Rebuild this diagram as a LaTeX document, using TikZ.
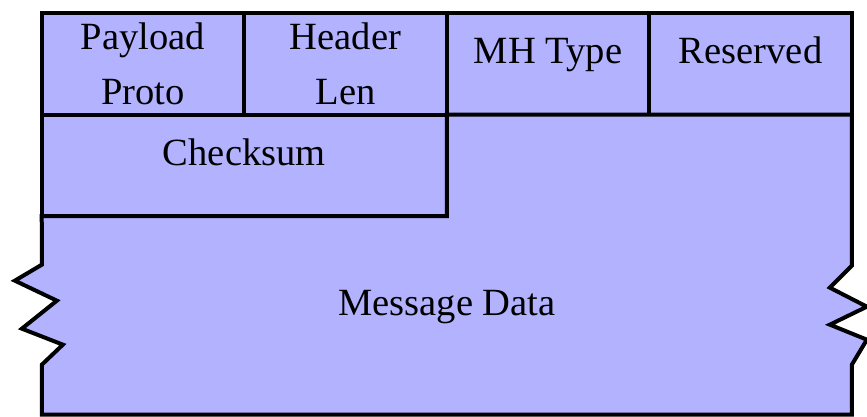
\documentclass[tikz,border=0pt]{standalone}
\usepackage{fontspec}
\setmainfont{Liberation Serif}
\usetikzlibrary{positioning}

\begin{document}
\begin{tikzpicture}[
  x=0.75pt, y=-0.75pt,
  font=\fontsize{28.9}{41.25}\selectfont,
  field/.style={rectangle, draw=black, fill=blue!30, line width=3pt, outer sep=0pt, inner sep=0pt, minimum width=151.9pt, minimum height=76pt, align=center},
  oneline/.style={text height=20pt, text depth=20pt},
  payload/.style={draw=black, fill=blue!30, line width=3pt}
]
\useasboundingbox (0,0) rectangle (867,417);

\node[field] (proto) at (143,64) {Payload \\ Proto};
\node[field, right=0pt of proto] (hdrlen) {Header \\ Len};
\node[field, oneline, right=0pt of hdrlen] (mhtype) {MH Type};
\node[field, oneline, right=0pt of mhtype] (reserved) {Reserved};
\node[field, oneline, minimum width=303.8pt, below right=0pt and 0pt of proto.south west] (checksum) {Checksum};

% message data, torn on both sides
\draw[payload] (checksum.north east) -- (reserved.south east)
  -- ++(0,151) -- ++(-22,22) -- ++(37,19) -- ++(-37,18) -- ++(37,15) -- ++(-15,25)
  -- ++(0,50) -- ++(-810,0)
  -- ++(0,-50) -- ++(21,-20) -- ++(-41,-16) -- ++(35,-28) -- ++(-42,-20) -- ++(27,-16)
  -- (checksum.south west) -- (checksum.south east) -- cycle;
\node[anchor=base] (data) at (447,315) {Message Data};

\end{tikzpicture}
\end{document}
